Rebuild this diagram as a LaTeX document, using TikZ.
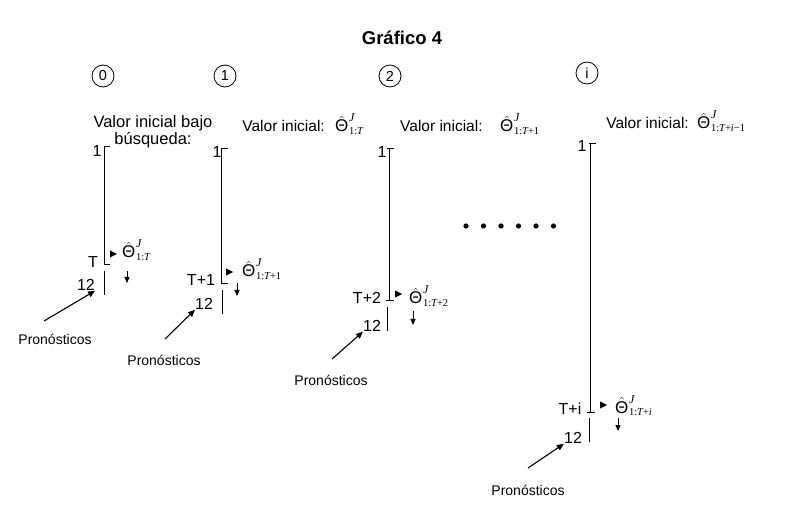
\RequirePackage{fix-cm}
\documentclass[tikz,border=0pt]{standalone}
\usepackage{fontspec}
\setmainfont{Liberation Sans}
\newfontfamily\tms{Liberation Serif}
\usetikzlibrary{arrows.meta,calc}
\newcommand{\Th}[1]{\mbox{$\hat{\hbox{\fontsize{17}{17}\selectfont Θ}}$\kern0.6pt\rlap{\raisebox{10pt}{\tms\itshape\fontsize{12}{12}\selectfont J}}\raisebox{-2.5pt}{\tms\fontsize{10.5}{12}\selectfont #1}}}
\newcommand{\itx}[1]{{\itshape #1}}
\begin{document}
\begin{tikzpicture}[x=1pt,y=-1pt,
  lab/.style={inner sep=0pt,font=\fontsize{16}{18}\selectfont},
  head/.style={inner sep=0pt,font=\fontsize{16.5}{19}\selectfont},
  headb/.style={inner sep=0pt,font=\fontsize{15.5}{19}\selectfont},
  prono/.style={inner sep=0pt,font=\fontsize{14}{16}\selectfont},
  num/.style={draw,circle,minimum size=22pt,inner sep=0pt,line width=0.8pt,font=\fontsize{14.5}{16}\selectfont},
  theta/.style={inner sep=0pt,anchor=base west,font=\fontsize{16}{18}\selectfont},
  axis/.style={line width=0.8pt},
  fwd/.style={line width=1.1pt,-{Triangle[length=7pt,width=6pt]}},
  down/.style={line width=0.9pt,-{Triangle[length=6pt,width=5pt]}}
]
\useasboundingbox (0,0) rectangle (800,518);
\node[inner sep=0pt,font=\bfseries\fontsize{18.5}{21}\selectfont] (title) at (402,38) {Gráfico 4};

% ---------- panel 0
\node[num] (c0) at (103,76) {0};
\node[head,anchor=base] (h0a) at (153,128) {Valor inicial bajo};
\node[head,anchor=base] (h0b) at (153,145) {búsqueda:};
\node[lab] (one0) at (97,151) {1};
\node[lab] (T0) at (93,262) {T};
\node[lab] (tw0) at (86,285) {12};
\coordinate (a0t) at (104,146); \coordinate (a0b) at (104,264);
\coordinate (s0t) at (104,271); \coordinate (s0b) at (104,295);
\draw[axis] ($(a0t)+(6,0)$) -- (a0t) -- (a0b) -- ($(a0b)+(6,0)$);
\draw[axis] (s0t) -- (s0b);
\fill (110,250.5) -- (117,254) -- (110,257.5) -- cycle;
\node[theta] (th0) at (122,258) {\Th{1:\itx{T}}};
\coordinate (d0t) at (127,271); \coordinate (d0b) at (127,283);
\draw[down] (d0t) -- (d0b);
\node[prono] (p0) at (55,339) {Pronósticos};
\coordinate (p0s) at (44,321);
\draw[fwd] (p0s) -- (tw0.south east);

% ---------- panel 1
\node[num] (c1) at (225,76) {1};
\node[headb,anchor=base east] (h1) at (325,132) {Valor inicial:};
\node[theta] (th1h) at (335,132) {\Th{1:\itx{T}}};
\node[lab] (one1) at (217,152) {1};
\node[lab] (T1) at (201,280) {T+1};
\node[lab] (tw1) at (204,304) {12};
\coordinate (a1t) at (221,148); \coordinate (a1b) at (221,283);
\coordinate (s1t) at (222,290); \coordinate (s1b) at (222,314);
\draw[axis] ($(a1t)+(7,0)$) -- (a1t) -- (a1b) -- ($(a1b)+(7,0)$);
\draw[axis] (s1t) -- (s1b);
\fill (226,268.5) -- (233,272) -- (226,275.5) -- cycle;
\node[theta] (th1) at (242,277) {\Th{1:\itx{T}+1}};
\coordinate (d1t) at (237,283); \coordinate (d1b) at (237,296);
\draw[down] (d1t) -- (d1b);
\node[prono] (p1) at (164,360) {Pronósticos};
\coordinate (p1s) at (165,339);
\draw[fwd] (p1s) -- (tw1.south west);

% ---------- panel 2
\node[num] (c2) at (390,76) {2};
\node[headb,anchor=base west] (h2) at (400,132) {Valor inicial:};
\node[theta] (th2h) at (500,132) {\Th{1:\itx{T}+1}};
\node[lab] (one2) at (382,152) {1};
\node[lab] (T2) at (367,298) {T+2};
\node[lab] (tw2) at (372,326) {12};
\coordinate (a2t) at (389,148); \coordinate (a2b) at (389,300);
\coordinate (s2t) at (387,307); \coordinate (s2b) at (387,331);
\draw[axis] ($(a2t)+(-2,0)$) -- ($(a2t)+(5,0)$);
\draw[axis] (a2t) -- (a2b);
\draw[axis] ($(a2b)+(-3,0)$) -- ($(a2b)+(5,0)$);
\draw[axis] (s2t) -- (s2b);
\fill (395,290.5) -- (402,294) -- (395,297.5) -- cycle;
\node[theta] (th2) at (409,304) {\Th{1:\itx{T}+2}};
\coordinate (d2t) at (413,311); \coordinate (d2b) at (413,325);
\draw[down] (d2t) -- (d2b);
\node[prono] (p2) at (331,380) {Pronósticos};
\coordinate (p2s) at (332,359);
\draw[fwd] (p2s) -- (tw2.south west);

% ---------- dots
\foreach \k [count=\n] in {466,483.5,501,518.5,536,553.5}
  \fill (\k,226) circle[radius=2.6] coordinate (dot\n);

% ---------- panel i
\node[num] (ci) at (587,73) {i};
\node[headb,anchor=base east] (hi) at (689,129) {Valor inicial:};
\node[theta] (thih) at (697,129) {\Th{1:\itx{T}+\itx{i}−1}};
\node[lab] (onei) at (582,146) {1};
\node[lab] (Ti) at (570,409) {T+i};
\node[lab] (twi) at (573,438) {12};
\coordinate (ait) at (590,143); \coordinate (aib) at (590,412);
\coordinate (sit) at (589,418); \coordinate (sib) at (589,442);
\draw[axis] ($(ait)+(-1,0)$) -- ($(ait)+(6,0)$);
\draw[axis] (ait) -- (aib);
\draw[axis] ($(aib)+(-3,0)$) -- ($(aib)+(5,0)$);
\draw[axis] (sit) -- (sib);
\fill (600,401.5) -- (607,405) -- (600,408.5) -- cycle;
\node[theta] (thi) at (615,413) {\Th{1:\itx{T}+\itx{i}}};
\coordinate (dit) at (618,418); \coordinate (dib) at (618,431);
\draw[down] (dit) -- (dib);
\node[prono] (pi) at (528,490) {Pronósticos};
\coordinate (pis) at (528,468);
\draw[fwd] (pis) -- (twi.south west);
\end{tikzpicture}
\end{document}
